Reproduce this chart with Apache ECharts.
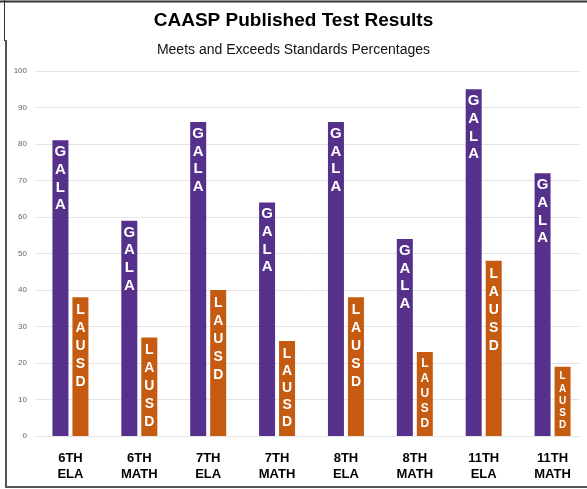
<!DOCTYPE html>
<html>
<head>
<meta charset="utf-8">
<script src="https://cdn.jsdelivr.net/npm/echarts@6/dist/echarts.min.js"></script>
<style>
html,body{margin:0;padding:0;background:#fff;}
#chart{width:587px;height:489px;}
</style>
</head>
<body>
<div id="chart"></div>
<script>
var categories = ['6TH\nELA', '6TH\nMATH', '7TH\nELA', '7TH\nMATH', '8TH\nELA', '8TH\nMATH', '11TH\nELA', '11TH\nMATH'];
var galaValues = [81, 59, 86, 64, 86, 54, 95, 72];
var lausdValues = [38, 27, 40, 26, 38, 23, 48, 19];
var yTicks = [0, 10, 20, 30, 40, 50, 60, 70, 80, 90, 100];
var titleText = 'CAASP Published Test Results';
var subtitleText = 'Meets and Exceeds Standards Percentages';
var galaName = 'GALA';
var lausdName = 'LAUSD';

var FONT = '"Liberation Sans", Arial, sans-serif';
var PLOT_TOP = 71, PLOT_BOTTOM = 53;
var plotH = 489 - PLOT_TOP - PLOT_BOTTOM;
var yMax = yTicks[yTicks.length - 1];

function stacked(word) { return word.split('').join('\n'); }

var lausdData = lausdValues.map(function (v) {
  var px = v * plotH / yMax;
  var lh = Math.min(18, (px - 9) / 5);
  return {
    value: v,
    label: { fontSize: Math.round(lh * 0.8), lineHeight: lh }
  };
});

var chart = echarts.init(document.getElementById('chart'), null, { renderer: 'canvas' });
chart.setOption({
  animation: false,
  backgroundColor: '#ffffff',
  title: [
    { text: titleText, left: 'center', top: 5,
      textStyle: { fontFamily: FONT, fontSize: 19, fontWeight: 'bold', color: '#000', lineHeight: 22 } },
    { text: subtitleText, left: 'center', top: 37,
      textStyle: { fontFamily: FONT, fontSize: 14, fontWeight: 'normal', color: '#111', lineHeight: 16 } }
  ],
  grid: [
    { left: 36, right: -4, top: PLOT_TOP, bottom: PLOT_BOTTOM },
    { left: 35, right: 7, top: PLOT_TOP, bottom: PLOT_BOTTOM }
  ],
  xAxis: [
    { type: 'category', gridIndex: 0, data: categories,
      axisLine: { show: false }, axisTick: { show: false },
      axisLabel: { margin: 14, fontFamily: FONT, fontSize: 13, fontWeight: 'bold', color: '#000', lineHeight: 16, interval: 0 } },
    { type: 'value', gridIndex: 1, show: false, min: 0, max: 1 }
  ],
  yAxis: [
    { type: 'value', gridIndex: 0, min: 0, max: yMax, interval: 10, show: false, splitLine: { show: false } },
    { type: 'value', gridIndex: 1, min: 0, max: yMax, interval: 10,
      axisLine: { show: false }, axisTick: { show: false },
      axisLabel: { margin: 8, fontFamily: FONT, fontSize: 8, color: '#666',
        formatter: function (v) { return yTicks.indexOf(v) >= 0 ? String(v) : ''; } },
      splitLine: { lineStyle: { color: '#e4e4e4', width: 1 } } }
  ],
  series: [
    { name: galaName, type: 'bar', xAxisIndex: 0, yAxisIndex: 0,
      data: galaValues, barWidth: 16, barGap: '25%',
      itemStyle: { color: '#55318C' },
      label: { show: true, position: 'insideTop', distance: 3,
        formatter: stacked(galaName), color: '#fff', fontFamily: FONT,
        fontWeight: 'bold', fontSize: 15, lineHeight: 17.7 } },
    { name: lausdName, type: 'bar', xAxisIndex: 0, yAxisIndex: 0,
      data: lausdData, barWidth: 16, barGap: '25%',
      itemStyle: { color: '#C55A11' },
      label: { show: true, position: 'insideTop', distance: 4,
        formatter: stacked(lausdName), color: '#fff', fontFamily: FONT,
        fontWeight: 'bold', fontSize: 14, lineHeight: 18 } }
  ],
  graphic: [
    { type: 'line', shape: { x1: 0, y1: 1.5, x2: 587, y2: 1.5 }, style: { stroke: '#333', lineWidth: 2 } },
    { type: 'line', shape: { x1: 4.5, y1: 0, x2: 4.5, y2: 41 }, style: { stroke: '#333', lineWidth: 1 } },
    { type: 'line', shape: { x1: 6, y1: 40, x2: 6, y2: 488 }, style: { stroke: '#555', lineWidth: 2 } },
    { type: 'line', shape: { x1: 5, y1: 487, x2: 587, y2: 487 }, style: { stroke: '#555', lineWidth: 2 } }
  ]
});
</script>
</body>
</html>
